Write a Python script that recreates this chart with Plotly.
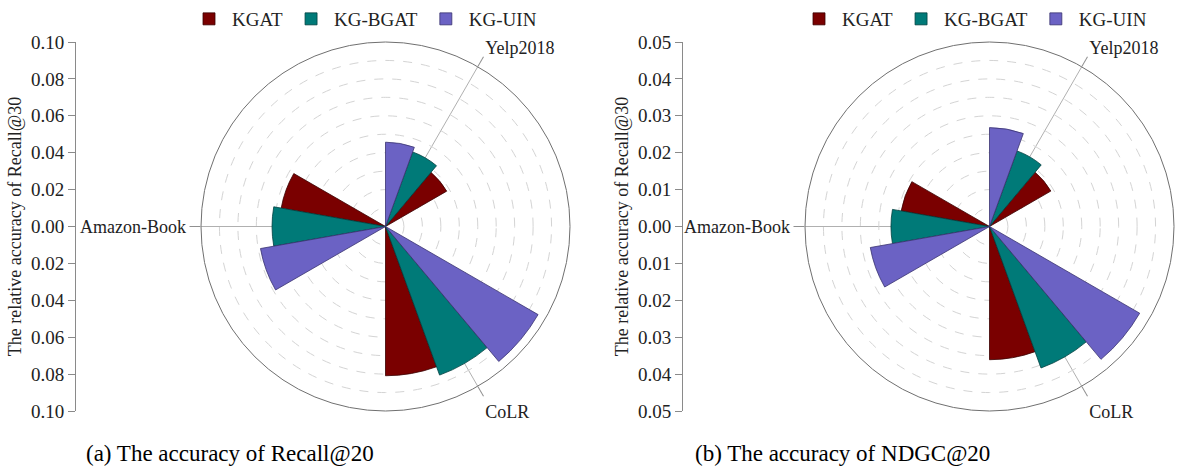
import plotly.graph_objects as go

# ---------------- data ----------------
categories = ["Yelp2018", "CoLR", "Amazon-Book"]
methods = ["KGAT", "KG-BGAT", "KG-UIN"]

recall_kgat = [0.0383, 0.0809, 0.0574]
recall_kgbgat = [0.0430, 0.0857, 0.0615]
recall_kguin = [0.0457, 0.0955, 0.0688]

ndcg_kgat = [0.0192, 0.0361, 0.0243]
ndcg_kgbgat = [0.0218, 0.0408, 0.0267]
ndcg_kguin = [0.0268, 0.0470, 0.0328]

recall_tick_vals = [-0.10, -0.08, -0.06, -0.04, -0.02, 0.00, 0.02, 0.04, 0.06, 0.08, 0.10]
recall_tick_text = ["0.10", "0.08", "0.06", "0.04", "0.02", "0.00", "0.02", "0.04", "0.06", "0.08", "0.10"]
ndcg_tick_vals = [-0.05, -0.04, -0.03, -0.02, -0.01, 0.00, 0.01, 0.02, 0.03, 0.04, 0.05]
ndcg_tick_text = ["0.05", "0.04", "0.03", "0.02", "0.01", "0.00", "0.01", "0.02", "0.03", "0.04", "0.05"]

y_title = "The relative accuracy of Recall@30"
subtitle_a = "(a) The accuracy of Recall@20"
subtitle_b = "(b) The accuracy of NDGC@20"

# ---------------- style ----------------
FONT = "Liberation Serif"
colors = {"KGAT": "#7a0000", "KG-BGAT": "#007a78", "KG-UIN": "#6b62c4"}
line_colors = {"KGAT": "#3a0000", "KG-BGAT": "#004040", "KG-UIN": "#3a3470"}
category_angles = [30, 150, 270]
bar_offsets = {"KGAT": 20, "KG-BGAT": 0, "KG-UIN": -20}
bar_width = 20

W, H = 1177, 475
y_dom = [1 - 411 / H, 1 - 42 / H]

fig = go.Figure()

series_left = {"KGAT": recall_kgat, "KG-BGAT": recall_kgbgat, "KG-UIN": recall_kguin}
series_right = {"KGAT": ndcg_kgat, "KG-BGAT": ndcg_kgbgat, "KG-UIN": ndcg_kguin}

for subplot, series, leg in [("polar", series_left, "legend"), ("polar2", series_right, "legend2")]:
    for m in methods:
        fig.add_trace(go.Barpolar(
            r=series[m],
            theta=[a + bar_offsets[m] for a in category_angles],
            width=[bar_width] * len(categories),
            name=m,
            marker=dict(color=colors[m], line=dict(color=line_colors[m], width=0.8)),
            subplot=subplot,
            legend=leg,
        ))

# dummy traces to anchor the side scale axes
fig.add_trace(go.Scatter(x=[None], y=[None], xaxis="x", yaxis="y", showlegend=False, hoverinfo="skip"))
fig.add_trace(go.Scatter(x=[None], y=[None], xaxis="x2", yaxis="y2", showlegend=False, hoverinfo="skip"))


def polar_cfg(xdom, rmax, dtick):
    return dict(
        domain=dict(x=xdom, y=y_dom),
        bgcolor="white",
        bargap=0,
        angularaxis=dict(
            rotation=90, direction="clockwise",
            tickmode="array", tickvals=category_angles, ticktext=categories,
            showgrid=True, gridcolor="#b0b0b0", gridwidth=1,
            showline=True, linecolor="#707070", linewidth=1,
            ticks="outside", ticklen=11, tickcolor="#909090",
            tickfont=dict(family=FONT, size=18, color="#222"),
            layer="below traces",
        ),
        radialaxis=dict(
            range=[0, rmax], tick0=0, dtick=dtick,
            showticklabels=False, ticks="", showline=False,
            gridcolor="#d4d4d4", gridwidth=1, griddash="dash",
            layer="below traces",
        ),
    )


def yaxis_cfg(vals, text, rng, anchor):
    return dict(
        domain=y_dom, range=rng, anchor=anchor, tickmode="array", tickvals=vals, ticktext=text,
        showline=True, linecolor="#8a8a8a", linewidth=1,
        ticks="outside", ticklen=7, tickcolor="#8a8a8a",
        showgrid=False, zeroline=False, fixedrange=True, automargin=False,
        tickfont=dict(family=FONT, size=19, color="#222"),
        title=dict(text=y_title, font=dict(family=FONT, size=18, color="#222"), standoff=4),
    )


legend_common = dict(orientation="h", y=1.0, yanchor="top", itemwidth=36,
                     font=dict(family=FONT, size=19, color="#222"), bgcolor="rgba(0,0,0,0)")

fig.update_layout(
    width=W, height=H,
    margin=dict(l=0, r=0, t=0, b=0, pad=0, autoexpand=False),
    paper_bgcolor="white", plot_bgcolor="white",
    font=dict(family=FONT, color="#222"),
    polar=polar_cfg([201 / W, 570 / W], 0.10, 0.01),
    polar2=polar_cfg([805 / W, 1174 / W], 0.05, 0.005),
    xaxis=dict(domain=[76 / W, 77 / W], anchor="y", visible=False, fixedrange=True),
    xaxis2=dict(domain=[683 / W, 684 / W], anchor="y2", visible=False, fixedrange=True),
    yaxis=yaxis_cfg(recall_tick_vals, recall_tick_text, [-0.10, 0.10], "x"),
    yaxis2=yaxis_cfg(ndcg_tick_vals, ndcg_tick_text, [-0.05, 0.05], "x2"),
    legend=dict(x=186 / W, xanchor="left", **legend_common),
    legend2=dict(x=796 / W, xanchor="left", **legend_common),
    annotations=[
        dict(text=subtitle_a, x=229.5 / W, y=1 - 453 / H, xref="paper", yref="paper",
             showarrow=False, xanchor="center", yanchor="middle",
             font=dict(family=FONT, size=23, color="#000")),
        dict(text=subtitle_b, x=842 / W, y=1 - 453 / H, xref="paper", yref="paper",
             showarrow=False, xanchor="center", yanchor="middle",
             font=dict(family=FONT, size=23, color="#000")),
    ],
    showlegend=True,
)

fig.write_html("out.html")
